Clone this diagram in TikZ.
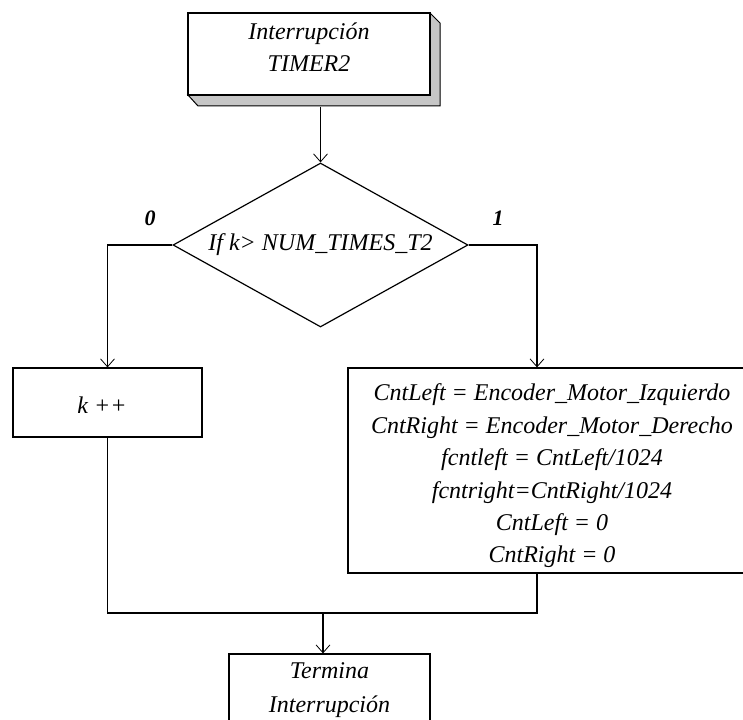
\documentclass[tikz,border=0pt]{standalone}
\usepackage{fontspec}
\setmainfont{Liberation Serif}
\usetikzlibrary{shapes.geometric,arrows.meta}
\begin{document}
\begin{tikzpicture}[x=1pt,y=-1pt,line width=1.2pt,
  box/.style={draw,fill=white,inner sep=0pt},
  txt/.style={font=\fontsize{24}{32.4}\selectfont\itshape,align=center,inner sep=0pt},
  lbl/.style={font=\fontsize{22}{26}\selectfont\bfseries\itshape,inner sep=0pt},
  arr/.style={-{Straight Barb[length=8pt,width=14pt,line width=0.8pt]}}]
\useasboundingbox (0,0) rectangle (743,719);
\clip (0,0) rectangle (743,719);
\fill[white] (0,0) rectangle (743,719);
% start box with shadow
\filldraw[fill=gray!45,line width=1pt] (430,13) -- (440,23) -- (440,106) -- (198,106) -- (188,95) -- (430,95) -- cycle;
\node[box,minimum width=242pt,minimum height=82pt] (start) at (309,54) {};
\node[txt] (starttxt) at (309,47) {Interrupción\\TIMER2};
% decision
\node[draw,diamond,aspect=1.8,minimum width=295pt,minimum height=164pt,inner sep=0pt,
      font=\fontsize{24}{30}\selectfont\itshape] (dec) at (320.5,245) {If k> NUM\_TIMES\_T2};
\node[lbl] (l0) at (150,218) {0};
\node[lbl] (l1) at (498,218) {1};
% k++ box
\node[box,minimum width=189pt,minimum height=69pt] (kbox) at (107.5,402.5) {};
\node[txt] (ktxt) at (102,405) {k ++};
% right box
\node[box,minimum width=408pt,minimum height=205pt] (rbox) at (552,470.5) {};
\node[txt] (rtxt) at (552,476) {CntLeft = Encoder\_Motor\_Izquierdo\\
CntRight = Encoder\_Motor\_Derecho\\
fcntleft = CntLeft/1024\\
fcntright=CntRight/1024\\
CntLeft = 0\\
CntRight = 0};
% end box
\node[box,minimum width=201pt,minimum height=72pt] (endbox) at (329.5,690) {};
\node[txt] (endtxt) at (329.5,690) {Termina\\[1.6pt]Interrupción};
% helper coordinates
\coordinate (rx) at (537,0);
\coordinate (join) at (323,613);
% connectors
\draw[arr] ([yshift=-11pt]dec.north |- start.south) -- (dec.north);
\draw[arr] (dec.west) -| (kbox.north);
\draw[arr] (dec.east) -| (rx |- rbox.north);
\draw (kbox.south) |- (rx |- join) -- (rx |- rbox.south);
\draw[arr] (join) -- (join |- endbox.north);
\end{tikzpicture}
\end{document}
